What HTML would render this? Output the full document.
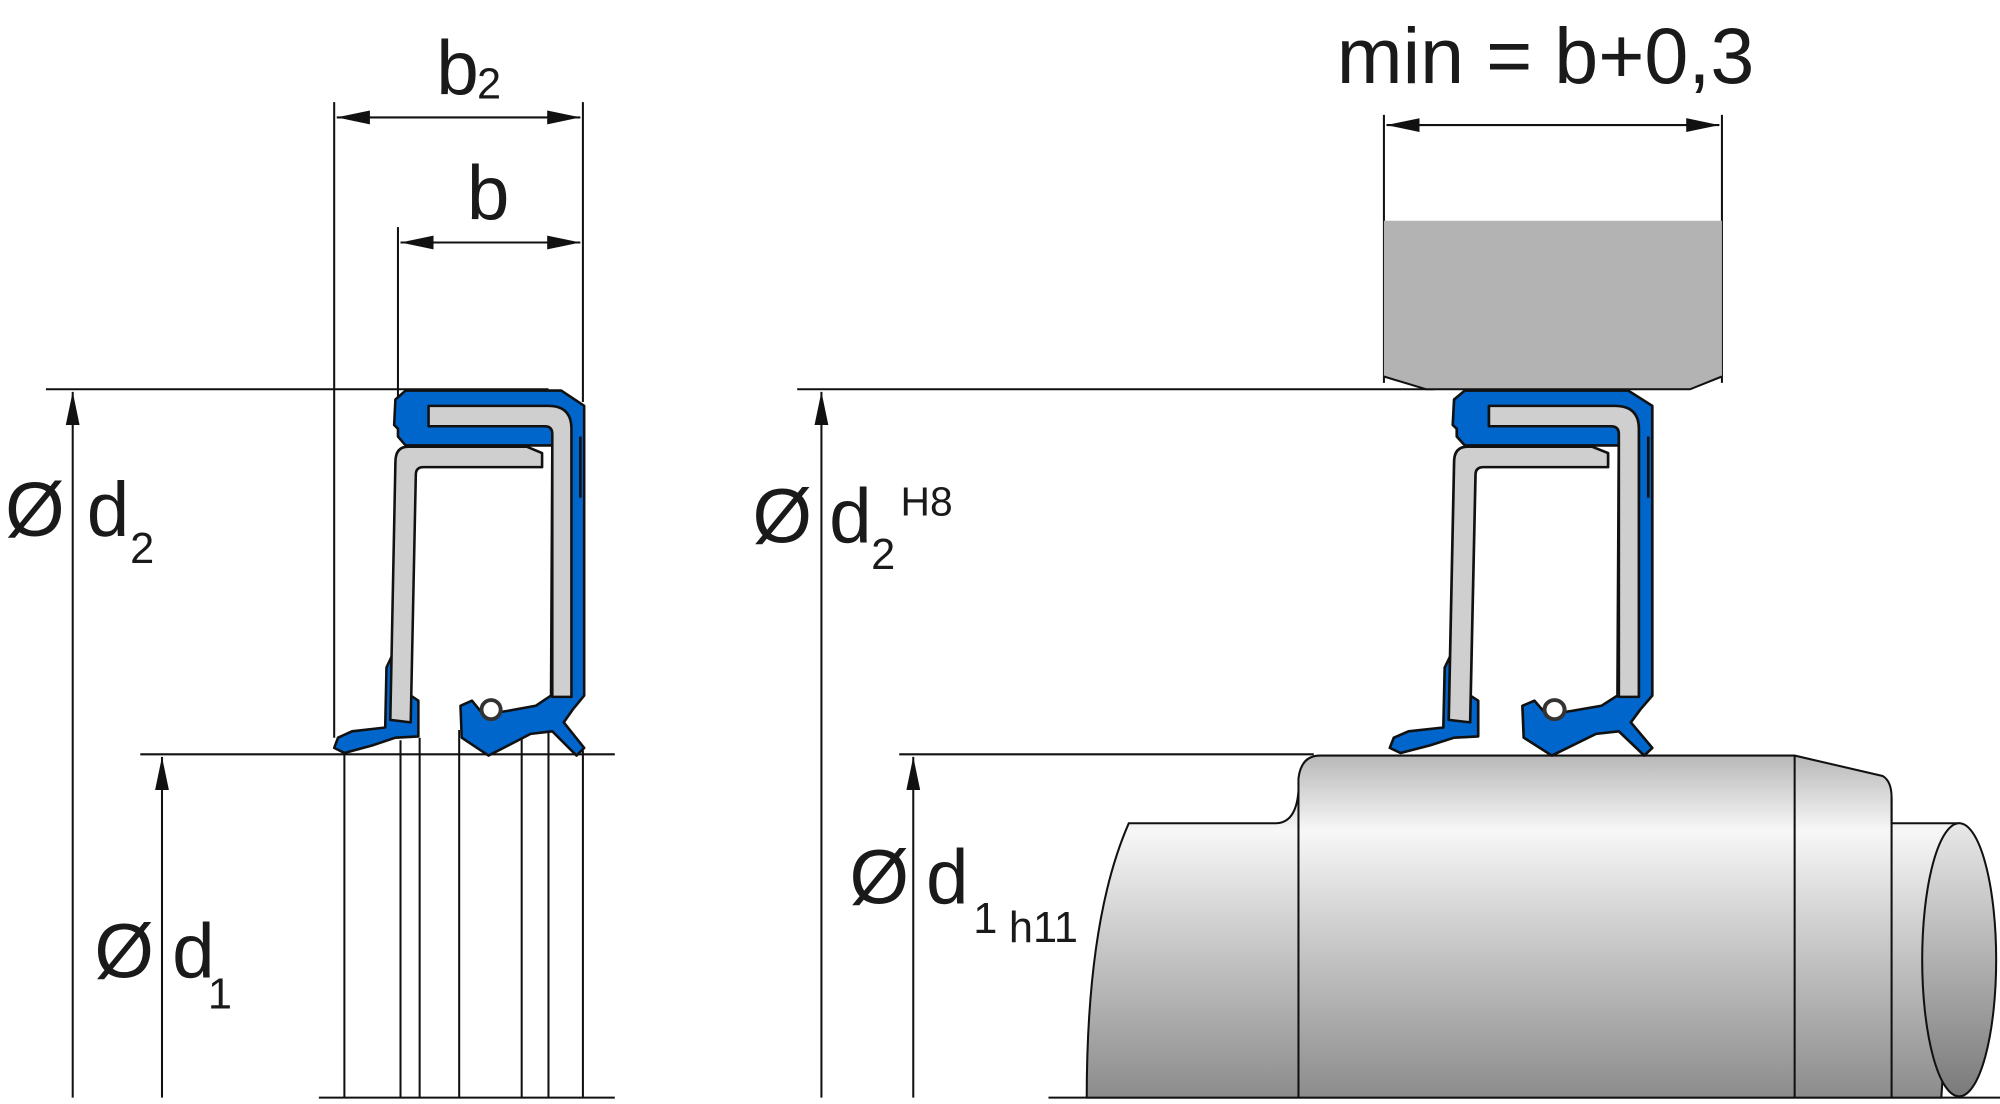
<!DOCTYPE html>
<html><head><meta charset="utf-8"><style>html,body{margin:0;padding:0;background:#fff}svg{display:block}text{font-family:"Liberation Sans",sans-serif;fill:#1a1a1a}</style></head><body>
<svg width="2000" height="1104" viewBox="0 0 1568 865" preserveAspectRatio="none" xmlns="http://www.w3.org/2000/svg">
<defs>
<marker id="ar" viewBox="0 0 24 10" refX="24" refY="5" markerWidth="26" markerHeight="11" markerUnits="userSpaceOnUse" orient="auto-start-reverse"><path d="M0,0 L24,5 L0,10 Z" fill="#111"/></marker>
<linearGradient id="sh" x1="0" y1="0" x2="0" y2="1"><stop offset="0" stop-color="#b8b8b8"/><stop offset="0.22" stop-color="#f7f7f7"/><stop offset="0.5" stop-color="#cfcfcf"/><stop offset="1" stop-color="#8c8c8c"/></linearGradient>
<linearGradient id="el" x1="0" y1="0" x2="0" y2="1"><stop offset="0" stop-color="#e8e8e8"/><stop offset="1" stop-color="#7a7a7a"/></linearGradient>
<g id="seal" stroke="#111" stroke-width="2" stroke-linejoin="round">
<path fill="#0066cc" d="M318,306 L440,306 L458,318 L458,545 L449,556 L442,566 L458,586 L452,592 L433,573 L416,575 L383,592 L362,578 L361,553 L370,549 L379,560 L398,557 L420,553 L432,545 L433,349 L318,349 L312,342 L312,336 L309,333 L310,313 Z"/>
<path fill="#0066cc" d="M310,508 L303,523 L302,570 L276,573 L265,578 L262,586 L270,590 L292,584 L310,578 L328,577 L328,549 L322,545 Z"/>
<path fill="#cfcfcf" d="M336,318 L430,318 Q448,318 448,336 L448,546 L433,546 L433,340 Q433,334 427,334 L336,334 Z"/>
<path fill="#cfcfcf" d="M320,350 L413,350 L425,355 L425,366 L332,366 Q326,366 326,372 L322,566 L306,564 L310,362 Q310,350 320,350 Z"/>
<circle cx="385" cy="556" r="7.5" fill="#fff" stroke="#333" stroke-width="3"/>
<line x1="455" y1="342" x2="455" y2="390" stroke-width="2"/>
</g>
</defs>
<g stroke="#111" stroke-width="1.6" fill="none">
<line x1="262" y1="80" x2="262" y2="578"/>
<line x1="457" y1="80" x2="457" y2="315"/>
<line x1="312" y1="178" x2="312" y2="312"/>
<line x1="264" y1="92" x2="455" y2="92" marker-start="url(#ar)" marker-end="url(#ar)"/>
<line x1="314" y1="190" x2="455" y2="190" marker-start="url(#ar)" marker-end="url(#ar)"/>
<line x1="36" y1="305" x2="430" y2="305"/>
<line x1="57" y1="860" x2="57" y2="307" marker-end="url(#ar)"/>
<line x1="110" y1="591" x2="482" y2="591"/>
<line x1="127" y1="860" x2="127" y2="593" marker-end="url(#ar)"/>
<line x1="270" y1="588" x2="270" y2="860"/>
<line x1="314" y1="580" x2="314" y2="860"/>
<line x1="329" y1="578" x2="329" y2="860"/>
<line x1="360" y1="572" x2="360" y2="860"/>
<line x1="409" y1="578" x2="409" y2="860"/>
<line x1="430" y1="570" x2="430" y2="860"/>
<line x1="457" y1="588" x2="457" y2="860"/>
<line x1="250" y1="860" x2="482" y2="860"/>
<line x1="1085" y1="90" x2="1085" y2="300"/>
<line x1="1350" y1="90" x2="1350" y2="300"/>
<line x1="1087" y1="98" x2="1348" y2="98" marker-start="url(#ar)" marker-end="url(#ar)"/>
<line x1="625" y1="305" x2="1125" y2="305"/>
<line x1="644" y1="860" x2="644" y2="307" marker-end="url(#ar)"/>
<line x1="705" y1="591" x2="1030" y2="591"/>
<line x1="716" y1="860" x2="716" y2="593" marker-end="url(#ar)"/>
<line x1="822" y1="860" x2="1568" y2="860"/>
</g>
<path d="M1085,173 L1350,173 L1350,295 L1325,305 L1118,305 L1085,295 Z" fill="#b3b3b3"/>
<path d="M1085,295 L1118,305 L1325,305 L1350,295" fill="none" stroke="#111" stroke-width="1.6"/>
<g stroke="#111" stroke-width="1.6">
<path d="M885,645 L1000,645 Q1016,645 1018,620 L1018,610 Q1020,592 1035,592 L1407,592 L1476,608 Q1483,612 1483,625 L1483,645 L1536,645 L1522,860 L852,860 Q852,720 885,645 Z" fill="url(#sh)"/>
<line x1="1018" y1="620" x2="1018" y2="860"/>
<line x1="1407" y1="592" x2="1407" y2="860"/>
<line x1="1483" y1="625" x2="1483" y2="860"/>
<ellipse cx="1536" cy="752" rx="29" ry="107" fill="url(#el)"/>
</g>
<use href="#seal"/>
<use href="#seal" transform="translate(1140,0) scale(1.05,1) translate(-310,0)"/>
<text x="342" y="74" font-size="60">b</text><text x="374" y="77" font-size="34">2</text>
<text x="366" y="172" font-size="60">b</text>
<text x="4" y="420" font-size="60">Ø</text><text x="68" y="420" font-size="60">d</text><text x="102" y="441" font-size="34">2</text>
<text x="74" y="766" font-size="60">Ø</text><text x="135" y="766" font-size="60">d</text><text x="163" y="790" font-size="34">1</text>
<text x="1048" y="65" font-size="62">min = b+0,3</text>
<text x="590" y="425" font-size="60">Ø</text><text x="650" y="425" font-size="60">d</text><text x="683" y="446" font-size="34">2</text><text x="706" y="404" font-size="32">H8</text>
<text x="666" y="708" font-size="60">Ø</text><text x="726" y="708" font-size="60">d</text><text x="763" y="731" font-size="34">1</text><text x="791" y="738" font-size="34">h11</text>
</svg>
</body></html>
